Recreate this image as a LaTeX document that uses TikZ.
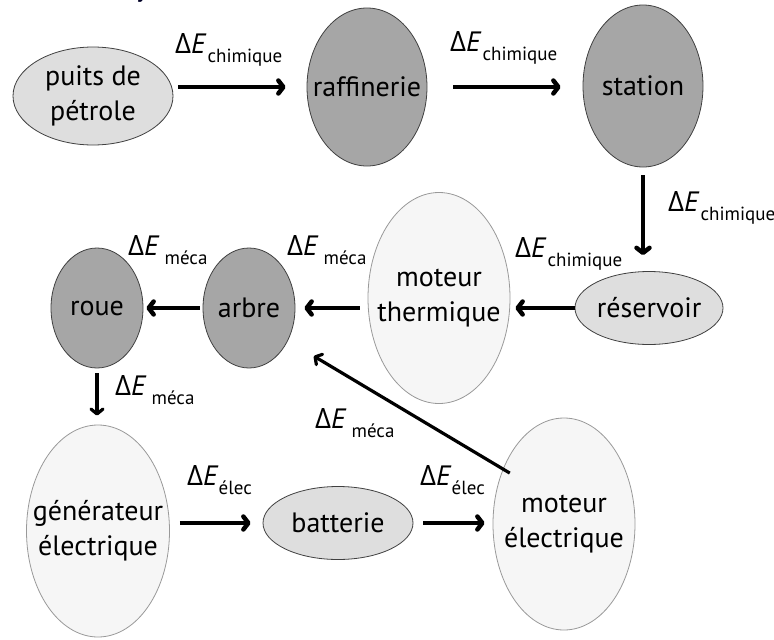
\documentclass[tikz,border=0pt]{standalone}
\usepackage{fontspec}
\setmainfont{PT Sans}
\newfontfamily\grk{Open Sans}
\usetikzlibrary{shapes.geometric,arrows.meta,calc}

\definecolor{dark}{gray}{0.65}
\definecolor{light}{gray}{0.87}
\definecolor{pale}{gray}{0.965}

% energy label: Delta E with a subscript; #2 = gap before the subscript
\newcommand\nrgy[2]{{\fontsize{28}{28}\selectfont{\grk Δ}\textit{E}}\hspace{#2}\raisebox{-9pt}{\fontsize{19}{19}\selectfont #1}}

\tikzset{
  % the ellipse size is set by minimum width/height only, not by the text
  blob/.style={ellipse, inner xsep=-80pt, inner ysep=-60pt, align=center, line width=0.8pt,
    font=\fontsize{28}{35}\selectfont},
  darkblob/.style={blob, draw=black!75, fill=dark},
  lightblob/.style={blob, draw=black!75, fill=light},
  paleblob/.style={blob, draw=black!40, fill=pale},
  flow/.style={line width=4.5pt, -{Straight Barb[length=5pt,width=13pt,line cap=round,line join=round]}},
  thinflow/.style={line width=3.2pt, -{Straight Barb[length=5pt,width=12pt,line cap=round,line join=round]}},
  lbl/.style={anchor=base west, inner sep=0pt},
}

\begin{document}
\begin{tikzpicture}[x=1pt,y=-1pt]
\useasboundingbox (0,0) rectangle (774,640);

% title, cut by the top edge
\node[anchor=base west, inner sep=0pt, font=\fontsize{24}{24}\selectfont\bfseries, text=black!85!blue] (title) at (30,-2.5) {Véhicule hybride};

% nodes
\node[lightblob, minimum width=160, minimum height=98] (puits) at (93,96) {puits de\\pétrole};
\node[darkblob, minimum width=120, minimum height=158] (raff) at (367,87) {raffinerie};
\node[darkblob, minimum width=120, minimum height=162] (station) at (643,86) {station};
\node[lightblob, minimum width=148, minimum height=73] (res) at (649,308) {réservoir};
\node[paleblob, minimum width=142, minimum height=211] (mt) at (439,298) {moteur\\thermique};
\node[darkblob, minimum width=92, minimum height=120] (arbre) at (249,308) {arbre};
\node[darkblob, minimum width=92, minimum height=120] (roue) at (97,308) {roue};
\node[paleblob, minimum width=143, minimum height=212] (gen) at (98,531) {générateur\\électrique};
\node[lightblob, minimum width=150, minimum height=73] (batt) at (338,523) {batterie};
\node[paleblob, minimum width=142, minimum height=212] (me) at (564,524) {moteur\\électrique};

% connectors
\draw[flow, shorten <=5pt, shorten >=21pt] (puits.east |- raff.west) -- (raff.west);
\draw[flow, shorten <=26pt, shorten >=22pt] (raff.east) -- (raff.east -| station.west);
\draw[flow, shorten <=8pt, shorten >=16pt] (station.south) -- (station.south |- res.north);
\draw[flow, shorten <=0pt, shorten >=5pt] (res.west) -- (res.west -| mt.east);
\draw[flow, shorten <=8pt, shorten >=9pt] (mt.west |- arbre.east) -- (arbre.east);
\draw[flow, shorten <=3pt, shorten >=3pt] (arbre.west) -- (roue.east);
\draw[thinflow, shorten <=5pt, shorten >=9pt] (roue.south) -- (roue.south |- gen.north);
\draw[flow, shorten <=10pt, shorten >=12pt] (gen.east |- batt.west) -- (batt.west);
\draw[flow, shorten <=10pt, shorten >=8pt] (batt.east) -- (batt.east -| me.west);
\draw[thinflow, shorten <=-8pt, shorten >=30pt] (me.138) -- (arbre.-40);

% energy labels
\node[lbl] (l1) at (175,53) {\nrgy{chimique}{1pt}};
\node[lbl] (l2) at (450,51) {\nrgy{chimique}{1pt}};
\node[lbl] (l3) at (668,211) {\nrgy{chimique}{1pt}};
\node[lbl] (l4) at (515,257) {\nrgy{chimique}{1pt}};
\node[lbl] (l5) at (128,255) {\nrgy{méca}{5pt}};
\node[lbl] (l6) at (287,255) {\nrgy{méca}{5pt}};
\node[lbl] (l7) at (115,395) {\nrgy{méca}{5pt}};
\node[lbl] (l8) at (187,485) {\nrgy{élec}{0pt}};
\node[lbl] (l9) at (420,485) {\nrgy{élec}{0pt}};
\node[lbl] (l10) at (315,428) {\nrgy{méca}{5pt}};
\end{tikzpicture}
\end{document}
